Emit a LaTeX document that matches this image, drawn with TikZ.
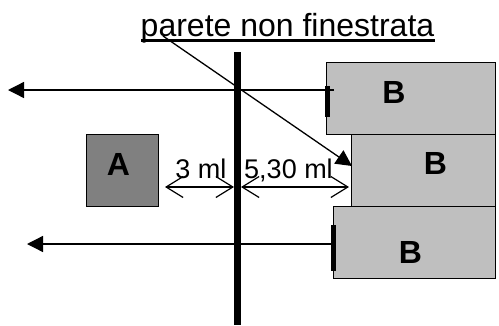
\documentclass[tikz,border=0pt]{standalone}
\usepackage{fontspec}
\setmainfont{Liberation Sans}
\usetikzlibrary{arrows.meta}
\tikzset{
 x=1pt,y=-1pt,
 box/.style={draw=black,line width=1.3pt,anchor=north west,inner sep=0pt,minimum width=#1},
 letter/.style={font=\fontsize{32}{34}\bfseries\selectfont,inner sep=0pt,anchor=base},
 lbl/.style={font=\fontsize{27}{30}\selectfont,inner sep=0pt,anchor=base},
 solidarrow/.style={line width=1.3pt,-{Triangle[length=16pt,width=16pt]}},
 openarrow/.style={line width=1.2pt,{Straight Barb[length=17pt,width=21pt,line width=1.2pt]}-{Straight Barb[length=17pt,width=21pt,line width=1.2pt]}},
 tick/.style={fill=black,inner sep=0pt,draw=none}
}
\begin{document}
\begin{tikzpicture}
\useasboundingbox (0,0) rectangle (499,325);
% boxes
\node[box=169pt,minimum height=72pt,fill=black!25] (b1) at (326,62) {};
\node[box=144pt,minimum height=72pt,fill=black!25] (b2) at (351,134) {};
\node[box=162pt,minimum height=72pt,fill=black!25] (b3) at (333,206) {};
\node[box=72pt,minimum height=72pt,fill=black!50] (a) at (86,134) {};
\node[letter] (la) at (118.5,175) {A};
\node[letter] (lb1) at (394,103) {B};
\node[letter] (lb2) at (435.5,174) {B};
\node[letter] (lb3) at (410.5,263) {B};
% wall
\node[tick,minimum width=7.5pt,minimum height=273pt,anchor=north] (wall) at (237.5,52) {};
% window ticks
\node[tick,minimum width=5pt,minimum height=31pt,anchor=north] (w1) at (327,86) {};
\node[tick,minimum width=5pt,minimum height=46pt,anchor=north] (w3) at (333,225) {};
% free ends
\coordinate (e1) at (8,90);
\coordinate (s1) at (334,90);
\coordinate (e3) at (27,244);
\coordinate (s3) at (333,244);
\coordinate (d1) at (165,187);
\coordinate (d2) at (234,187);
\coordinate (d3) at (241,187);
\coordinate (d4) at (349,187);
\coordinate (ds) at (163,36);
\coordinate (de) at (352,166);
% labels
\node[lbl] (l3) at (201,178) {3 ml};
\node[lbl] (l5) at (288.5,178) {5,30 ml};
\node[font=\fontsize{32}{36}\selectfont,inner sep=0pt,anchor=base] (title) at (287.5,36) {parete non finestrata};
\draw[line width=2.4pt] (141,40.5) -- (434.5,40.5);
\draw[solidarrow] (s1) -- (e1);
\draw[solidarrow] (s3) -- (e3);
\draw[openarrow] (d1) -- (d2);
\draw[openarrow] (d3) -- (d4);
\draw[solidarrow] (ds) -- (de);
\end{tikzpicture}
\end{document}
